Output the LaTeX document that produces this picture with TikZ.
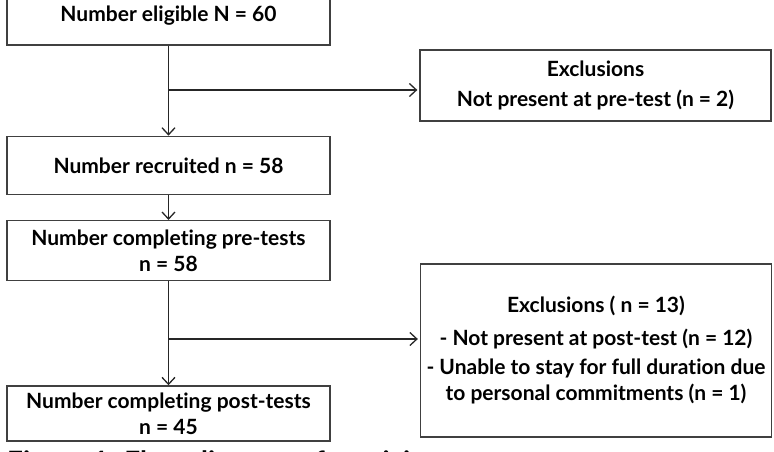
\documentclass[tikz,border=0pt]{standalone}
\usepackage{fontspec}
\setmainfont{Lato}[Ligatures=NoCommon]
\usetikzlibrary{positioning, arrows.meta}

\begin{document}
\begin{tikzpicture}[x=1pt, y=-1pt, font=\bfseries\fontsize{21}{26}\selectfont, >={Straight Barb[length=7pt,width=13pt]}]
    % Node Styles
    \tikzstyle{stage} = [rectangle, draw=black!75, line width=1.3pt, minimum width=323pt, minimum height=58pt, inner sep=0pt, align=center]
    \tikzstyle{excl} = [rectangle, draw=black!75, line width=1.3pt, minimum width=351pt, inner sep=0pt, align=center]
    \tikzstyle{line} = [draw, ->, line width=1.3pt, black!85]

    \useasboundingbox (0,0) rectangle (774,451);
    \clip (0,0) rectangle (774,451);

    % Main flow
    \node [stage] (eligible) at (168.5,16) {Number eligible N = 60};
    \node [stage, below=90pt of eligible] (recruited) {Number recruited n = 58};
    \node [stage, minimum height=60pt, below=25pt of recruited] (pretest) {Number completing pre-tests\\ n = 58};
    \node [stage, minimum height=55pt, below=104pt of pretest] (posttest) {Number completing post-tests\\ n = 45};

    % Exclusions
    \node [excl, minimum height=71pt] (exclpre) at (595.5,85.5) {Exclusions\\[4pt] Not present at pre-test (n = 2)};
    \node [excl, minimum height=173pt] (exclpost) at (596,350.5) {Exclusions ( n = 13)\\[7pt] - Not present at post-test (n = 12)\\[3pt] - Unable to stay for full duration due\\ to personal commitments (n = 1)};

    % Caption (cut off at the bottom)
    \node [anchor=north west, inner sep=0pt, font=\bfseries\fontsize{28}{30}\selectfont] (caption) at (7,450) {Figure 1. Flow diagram of participants};

    % Paths
    \coordinate (split1) at (eligible.south |- 0,90);
    \coordinate (split2) at (pretest.south |- 0,339);
    \path [line] (eligible) -- (recruited);
    \path [line, shorten >=2pt] (split1) -- (split1 -| exclpre.west);
    \path [line] (recruited) -- (pretest);
    \path [line] (pretest) -- (posttest);
    \path [line, shorten >=2pt] (split2) -- (split2 -| exclpost.west);
\end{tikzpicture}
\end{document}
